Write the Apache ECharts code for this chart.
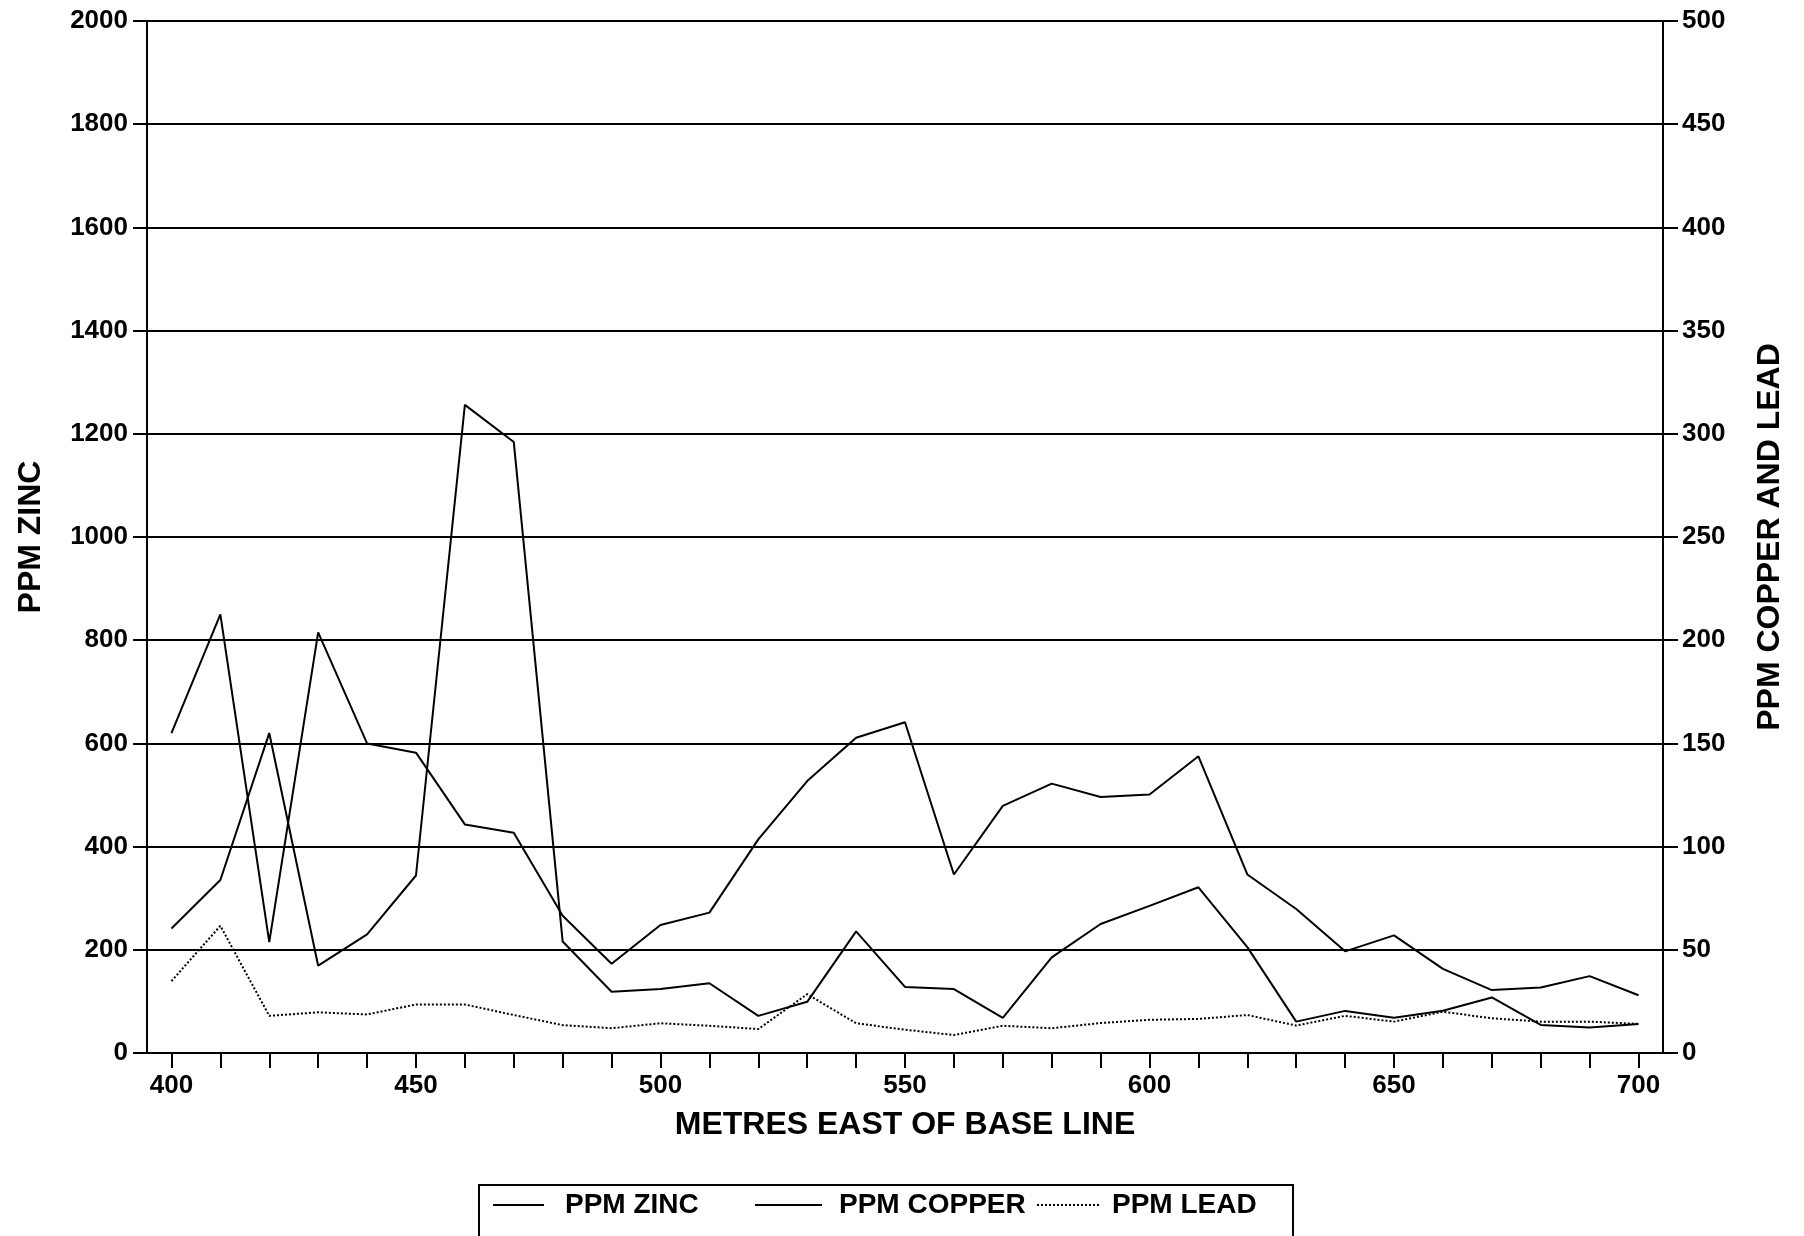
<!DOCTYPE html>
<html>
<head>
<meta charset="utf-8">
<script src="https://cdn.jsdelivr.net/npm/echarts@6/dist/echarts.min.js"></script>
<style>html,body{margin:0;padding:0;background:#fff;}#c{width:1804px;height:1236px;}</style>
</head>
<body>
<div id="c"></div>
<script>
const metres = [400,410,420,430,440,450,460,470,480,490,500,510,520,530,540,550,560,570,580,590,600,610,620,630,640,650,660,670,680,690,700];
const zinc = [620,850,215,815,600,582,443,427,266,173,248,272,414,527,611,641,346,479,522,496,501,575,346,279,197,228,163,122,127,149,112];
const copper = [60.3,83.8,155,42.3,57.5,86,314,296,54,29.7,31,33.8,18,24.8,58.9,32,31,17,46.3,62.5,71.3,80.3,51.3,15.2,20.4,17.1,20.5,26.9,13.6,12.3,14.1];
const lead = [34.8,61.6,18,19.7,18.7,23.5,23.5,18.4,13.5,12,14.4,13.2,11.6,28.5,14.4,11.3,8.7,13.2,12,14.5,16.1,16.5,18.4,13.3,18,15.2,20,16.8,15.2,15.2,14.1];
const seriesNames = ['PPM ZINC','PPM COPPER','PPM LEAD'];
const xTitle = 'METRES EAST OF BASE LINE';
const yLeftTitle = 'PPM ZINC';
const yRightTitle = 'PPM COPPER AND LEAD';

const FONT = '"Liberation Sans", Arial, Helvetica, sans-serif';
const chart = echarts.init(document.getElementById('c'), null, {renderer:'canvas'});
const lbl = {color:'#000', fontFamily: FONT, fontWeight:'bold', fontSize:26};
const axisTitle = {color:'#000', fontFamily: FONT, fontWeight:'bold', fontSize:32};
function legendFor(name, left, w, pad){
  return {
    data:[name], left:left, top:1191, padding:0,
    itemWidth:w, itemHeight:14, itemGap:0,
    itemStyle:{opacity:0},
    textStyle:{color:'#000', fontFamily:FONT, fontWeight:'bold', fontSize:28, padding:[0,0,0,pad]}
  };
}
chart.setOption({
  animation:false,
  backgroundColor:'#fff',
  grid:{left:147, right:141, top:21, bottom:183, containLabel:false},
  graphic:[{type:'rect', shape:{x:479, y:1185, width:814, height:120}, style:{fill:'none', stroke:'#000', lineWidth:2}, silent:true}],
  legend:[
    legendFor(seriesNames[0], 492, 51, 16),
    legendFor(seriesNames[1], 754, 67, 12),
    legendFor(seriesNames[2], 1036, 63, 7)
  ],
  xAxis:{
    type:'category', data: metres, boundaryGap:true,
    name: xTitle, nameLocation:'middle', nameGap:56, nameTextStyle:axisTitle,
    axisLine:{lineStyle:{color:'#000', width:2}},
    axisTick:{show:true, alignWithLabel:true, interval:0, length:15, lineStyle:{color:'#000', width:2}},
    axisLabel:{interval:4, margin:20, ...lbl},
    splitLine:{show:false}
  },
  yAxis:[{
    type:'value', min:0, max:2000, interval:200, position:'left',
    name: yLeftTitle, nameLocation:'middle', nameRotate:90, nameGap:100, nameTextStyle:axisTitle,
    axisLine:{show:true, lineStyle:{color:'#000', width:2}},
    axisTick:{show:true, length:14, lineStyle:{color:'#000', width:2}},
    axisLabel:{margin:19, formatter:(v)=>String(v), ...lbl},
    splitLine:{show:true, lineStyle:{color:'#000', width:2}}
  },{
    type:'value', min:0, max:500, interval:50, position:'right',
    name: yRightTitle, nameLocation:'middle', nameRotate:90, nameGap:91, nameTextStyle:axisTitle,
    axisLine:{show:true, lineStyle:{color:'#000', width:2}},
    axisTick:{show:true, length:15, lineStyle:{color:'#000', width:2}},
    axisLabel:{margin:19, formatter:(v)=>String(v), ...lbl},
    splitLine:{show:false}
  }],
  series:[
    {name:seriesNames[0], type:'line', yAxisIndex:0, data:zinc, symbol:'none', lineStyle:{color:'#000', width:2}, itemStyle:{color:'#000'}},
    {name:seriesNames[1], type:'line', yAxisIndex:1, data:copper, symbol:'none', lineStyle:{color:'#000', width:2}, itemStyle:{color:'#000'}},
    {name:seriesNames[2], type:'line', yAxisIndex:1, data:lead, symbol:'none', lineStyle:{color:'#000', width:2, type:'dotted'}, itemStyle:{color:'#000'}}
  ]
});
</script>
</body>
</html>
